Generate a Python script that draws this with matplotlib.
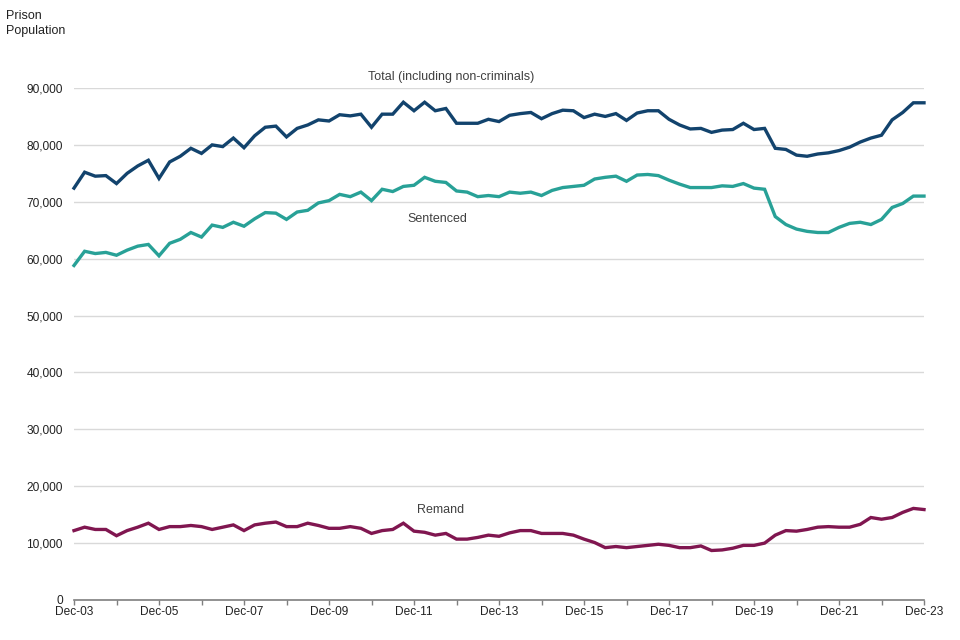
import matplotlib
matplotlib.use("Agg")
import matplotlib.pyplot as plt
import numpy as np

# Quarterly prison population, Dec-03 to Dec-23
total = [72400, 75200, 74500, 74600, 73200, 75000, 76300, 77300, 74100, 77000,
         78000, 79400, 78500, 80000, 79700, 81200, 79500, 81600, 83100, 83300,
         81400, 82900, 83500, 84400, 84200, 85300, 85100, 85400, 83100, 85400,
         85400, 87500, 86000, 87500, 86000, 86400, 83800, 83800, 83800, 84500,
         84100, 85200, 85500, 85700, 84600, 85500, 86100, 86000, 84800, 85400,
         85000, 85500, 84300, 85600, 86000, 86000, 84500, 83500, 82800, 82900,
         82200, 82600, 82700, 83800, 82700, 82900, 79400, 79200, 78200, 78000,
         78400, 78600, 79000, 79600, 80500, 81200, 81700, 84400, 85700, 87400,
         87400]
sentenced = [58800, 61300, 60900, 61100, 60600, 61500, 62200, 62500, 60500, 62700,
             63400, 64600, 63800, 65900, 65500, 66400, 65700, 67000, 68100, 68000,
             66900, 68200, 68500, 69800, 70200, 71300, 70900, 71700, 70200, 72200,
             71800, 72700, 72900, 74300, 73600, 73400, 71900, 71700, 70900, 71100,
             70900, 71700, 71500, 71700, 71100, 72000, 72500, 72700, 72900, 74000,
             74300, 74500, 73600, 74700, 74800, 74600, 73800, 73100, 72500, 72500,
             72500, 72800, 72700, 73200, 72400, 72200, 67400, 66000, 65200, 64800,
             64600, 64600, 65500, 66200, 66400, 66000, 66900, 69000, 69700, 71000,
             71000]
remand = [12200, 12800, 12400, 12400, 11300, 12200, 12800, 13500, 12400, 12900,
          12900, 13100, 12900, 12400, 12800, 13200, 12200, 13200, 13500, 13700,
          12900, 12900, 13500, 13100, 12600, 12600, 12900, 12600, 11700, 12200,
          12400, 13500, 12100, 11900, 11400, 11700, 10700, 10700, 11000, 11400,
          11200, 11800, 12200, 12200, 11700, 11700, 11700, 11400, 10700, 10100,
          9200, 9400, 9200, 9400, 9600, 9800, 9600, 9200, 9200, 9500,
          8700, 8800, 9100, 9600, 9600, 10000, 11400, 12200, 12100, 12400,
          12800, 12900, 12800, 12800, 13300, 14500, 14200, 14500, 15400, 16100,
          15900]
tick_labels = ["Dec-03", "Dec-05", "Dec-07", "Dec-09", "Dec-11", "Dec-13",
               "Dec-15", "Dec-17", "Dec-19", "Dec-21", "Dec-23"]
y_ticks = [0, 10000, 20000, 30000, 40000, 50000, 60000, 70000, 80000, 90000]

plt.rcParams['font.family'] = ['Liberation Sans', 'DejaVu Sans']

fig = plt.figure(figsize=(9.6, 6.4), dpi=100)
ax = fig.add_axes([74/960, 1 - 600/640, 850/960, 512/640])

x = np.arange(len(total))
c_total, c_sent, c_rem = '#12436D', '#28A197', '#801650'
ax.plot(x, total, color=c_total, lw=2.4, solid_joinstyle='miter', clip_on=False)
ax.plot(x, sentenced, color=c_sent, lw=2.4, solid_joinstyle='miter', clip_on=False)
ax.plot(x, remand, color=c_rem, lw=2.4, solid_joinstyle='miter', clip_on=False)

ax.set_xlim(0, len(total) - 1)
ax.set_ylim(0, 90000)
ax.set_yticks(y_ticks)
ax.set_yticklabels([f"{v:,}" for v in y_ticks])
ax.yaxis.grid(True, color='#d9d9d9', lw=1)
ax.set_axisbelow(True)
ax.tick_params(axis='y', length=0, pad=8, labelsize=8.6, labelcolor='#222222')

ax.set_xticks(np.arange(0, len(total), 4), minor=True)
ax.set_xticks(np.arange(0, len(total), 8))
ax.set_xticklabels(tick_labels)
ax.tick_params(axis='x', which='both', length=3.5, width=1, color='#7f7f7f',
               direction='out', labelsize=8.6, labelcolor='#222222', pad=0.5)

for s in ['top', 'right', 'left']:
    ax.spines[s].set_visible(False)
ax.spines['bottom'].set_color('#7f7f7f')
ax.spines['bottom'].set_linewidth(1.2)

txt = '#404040'
ax.text(35.45, 91900, "Total (including non-criminals)", ha='center', va='center',
        fontsize=9, color=txt)
ax.text(34.2, 67000, "Sentenced", ha='center', va='center', fontsize=9, color=txt)
ax.text(34.5, 15800, "Remand", ha='center', va='center', fontsize=9, color=txt)

fig.text(6/960, 1 - 10/640, "Prison\nPopulation", ha='left', va='top',
         fontsize=9, color='#222222', linespacing=1.3)

fig.savefig("out.png", dpi=100)
